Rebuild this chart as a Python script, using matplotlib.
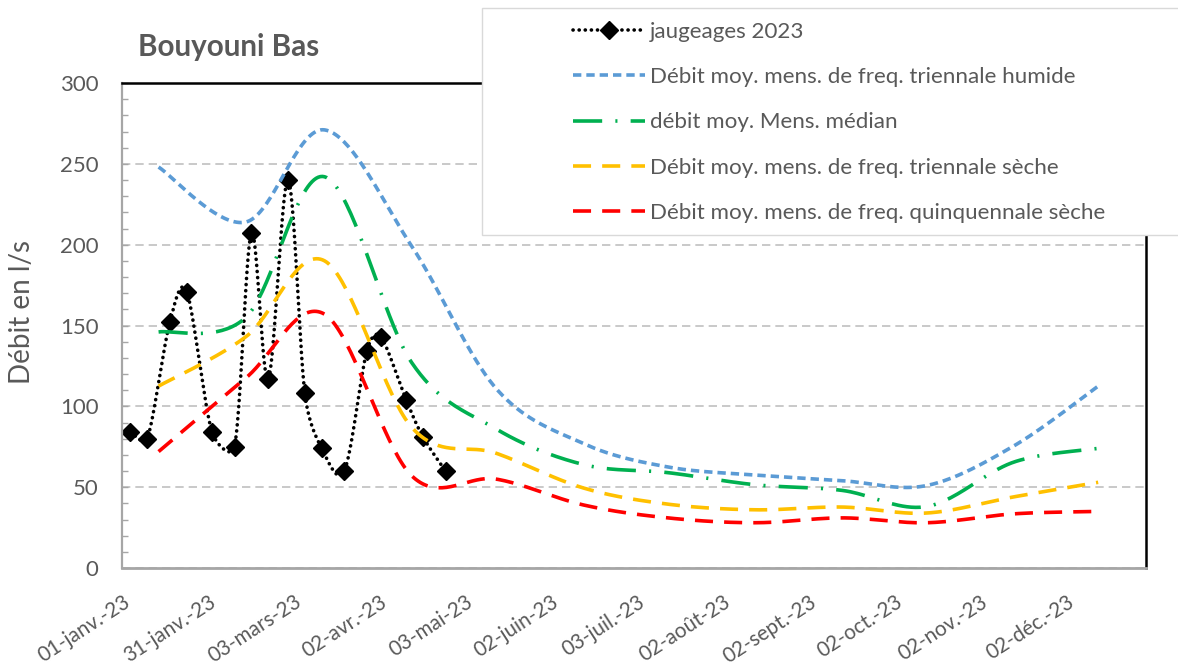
import numpy as np
import pandas as pd
import matplotlib
matplotlib.use("Agg")
import matplotlib.pyplot as plt
from matplotlib.patches import Rectangle
from matplotlib.lines import Line2D
from matplotlib.ticker import MultipleLocator
from matplotlib.transforms import ScaledTranslation

plt.rcParams['font.family'] = ['Lato', 'DejaVu Sans']
plt.rcParams['lines.scale_dashes'] = False

TXT = '#595959'

title = "Bouyouni Bas"
y_label = "Débit en l/s"

gauge_dates = ["2023-01-04", "2023-01-10", "2023-01-18", "2023-01-24", "2023-02-02",
               "2023-02-10", "2023-02-16", "2023-02-22", "2023-03-01", "2023-03-07",
               "2023-03-13", "2023-03-21", "2023-03-29", "2023-04-03", "2023-04-12",
               "2023-04-18", "2023-04-26"]
gauge_values = [84, 80, 152, 171, 84, 75, 207, 117, 240, 108, 74, 60, 134, 143, 104, 81, 60]

month_dates = ["2023-01-14", "2023-02-14", "2023-03-14", "2023-04-14", "2023-05-14",
               "2023-06-14", "2023-07-14", "2023-08-14", "2023-09-14", "2023-10-14",
               "2023-11-14", "2023-12-14"]
wet3 = [248, 214, 271, 199, 111, 77, 62.5, 57.5, 54, 51, 75.5, 112.5]
median = [146, 155, 242, 127, 86, 64, 59, 51.5, 48, 38, 65.5, 74]
dry3 = [112.5, 143, 190, 87, 71, 49.5, 39.5, 36, 37.7, 34, 44, 53]
dry5 = [72, 117.5, 157, 57, 55, 39, 31, 28, 31, 28, 33.5, 35]

tick_labels = ["01-janv.-23", "31-janv.-23", "03-mars-23", "02-avr.-23", "03-mai-23",
               "02-juin-23", "03-juil.-23", "02-août-23", "02-sept.-23", "02-oct.-23",
               "02-nov.-23", "02-déc.-23"]
tick_step_days = 30.5

legend_labels = ["jaugeages 2023",
                 "Débit moy. mens. de freq. triennale humide",
                 "débit moy. Mens. médian",
                 "Débit moy. mens. de freq. triennale sèche",
                 "Débit moy. mens. de freq. quinquennale sèche"]

origin = pd.Timestamp("2023-01-01")
def doy(dates):
    return np.array([(pd.Timestamp(d) - origin).days for d in dates], dtype=float)

gx = doy(gauge_dates)
mx = doy(month_dates)

W, H = 1178, 667
fig = plt.figure(figsize=(W / 100, H / 100), dpi=100)
ax = fig.add_axes([122 / W, 99 / H, 1024 / W, 485 / H])
ax.set_xlim(0, 364)
ax.set_ylim(0, 300)


def smooth(xs, ys, n=40, clamp=0.5):
    pts = ax.transData.transform(np.column_stack([xs, ys]))
    P = np.vstack([pts[0], pts, pts[-1]])
    out = []
    for i in range(1, len(P) - 2):
        p0, p1, p2, p3 = P[i - 1], P[i], P[i + 1], P[i + 2]
        seglen = np.hypot(*(p2 - p1))
        a1 = (p2 - p0) / 6
        a2 = (p3 - p1) / 6
        for a in (a1, a2):
            la = np.hypot(*a)
            if la > clamp * seglen and la > 0:
                a *= clamp * seglen / la
        c1 = p1 + a1
        c2 = p2 - a2
        t = np.linspace(0, 1, n)[:, None]
        seg = (1 - t) ** 3 * p1 + 3 * (1 - t) ** 2 * t * c1 + 3 * (1 - t) * t ** 2 * c2 + t ** 3 * p2
        out.append(seg if i == 1 else seg[1:])
    out = np.vstack(out)
    d = ax.transData.inverted().transform(out)
    return d[:, 0], d[:, 1]


# styles
s_gauge = dict(color='black', lw=2.6, dashes=(0.1, 4.3), dash_capstyle='round')
s_wet = dict(color='#5B9BD5', lw=2.6, dashes=(6.0, 3.6))
s_med = dict(color='#00B050', lw=2.6, dashes=(21.0, 9.5, 1.5, 9.5))
s_dry3 = dict(color='#FFC000', lw=2.6, dashes=(13.0, 8.0))
s_dry5 = dict(color='#FF0000', lw=2.6, dashes=(13.0, 8.0))

sx, sy = smooth(gx, gauge_values)
ax.plot(sx, sy, zorder=3, **s_gauge)
ax.plot(gx, gauge_values, ls='none', marker='D', ms=9.3, color='black', zorder=3.5)

for vals, st, z in [(wet3, s_wet, 4), (median, s_med, 5), (dry3, s_dry3, 6), (dry5, s_dry5, 7)]:
    sx, sy = smooth(mx, vals)
    ax.plot(sx, sy, zorder=z, solid_capstyle='butt', dash_capstyle='butt', **st)

# axes styling
ax.set_axisbelow(True)
ax.yaxis.set_major_locator(MultipleLocator(50))
ax.yaxis.set_minor_locator(MultipleLocator(10))
ax.grid(axis='y', which='major', color='#c0c0c0', lw=1.2, linestyle=(0, (6, 3.6)))
ax.tick_params(axis='y', which='both', direction='in', length=4, width=1, color='#a6a6a6',
               labelsize=16, labelcolor=TXT, pad=17)

xticks = np.arange(len(tick_labels)) * tick_step_days
ax.set_xticks(xticks)
ax.set_xticklabels([])
ax.tick_params(axis='x', length=0)
lab_tr = ax.get_xaxis_transform() + ScaledTranslation(6 / 100, -32 / 100, fig.dpi_scale_trans)
for xt, lab in zip(xticks, tick_labels):
    ax.text(xt, 0, lab, transform=lab_tr, rotation=33, rotation_mode='anchor',
            ha='right', va='center', fontsize=14.9, color=TXT, clip_on=False)

ax.spines['left'].set_color('#a6a6a6')
ax.spines['left'].set_linewidth(1.6)
ax.spines['bottom'].set_color('#a6a6a6')
ax.spines['bottom'].set_linewidth(2.0)
ax.spines['top'].set_color('black')
ax.spines['top'].set_linewidth(1.8)
ax.spines['right'].set_color('black')
ax.spines['right'].set_linewidth(1.8)
for s in ax.spines.values():
    s.set_zorder(8)

fig.text(138 / W, 1 - 47 / H, title, fontsize=21.3, fontweight='bold', color=TXT,
         ha='left', va='center')
fig.text(22 / W, 1 - 312 / H, y_label, fontsize=20, color=TXT, rotation=90,
         ha='center', va='center')

# legend box
fig.patches.append(Rectangle((482 / W, 1 - 235 / H), 720 / W, 227 / H, transform=fig.transFigure,
                             facecolor='white', edgecolor='#d9d9d9', lw=1.0, zorder=2))
handles = [Line2D([], [], marker='D', ms=9.3, markerfacecolor='black', markeredgecolor='black', **s_gauge),
           Line2D([], [], **s_wet), Line2D([], [], **s_med),
           Line2D([], [], **s_dry3), Line2D([], [], **s_dry5)]
leg = fig.legend(handles, legend_labels, loc='upper left',
                 bbox_to_anchor=(573 / W, 1 - 21.5 / H), bbox_transform=fig.transFigure,
                 frameon=False, fontsize=16.15, handlelength=3.21, handletextpad=0.22,
                 labelspacing=1.135, borderpad=0, borderaxespad=0, numpoints=1)
for t in leg.get_texts():
    t.set_color(TXT)
leg.set_zorder(10)

fig.savefig("out.png", dpi=100)
